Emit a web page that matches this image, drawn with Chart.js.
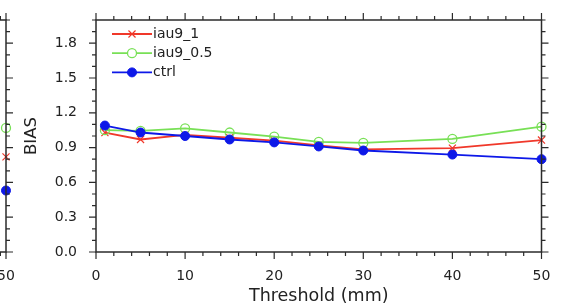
<!DOCTYPE html>
<html>
<head>
<meta charset="utf-8">
<script src="https://cdn.jsdelivr.net/npm/chart.js@4/dist/chart.umd.min.js"></script>
<style>
  html, body { margin: 0; padding: 0; background: #fff; }
  #wrap { position: relative; width: 573px; height: 306px; overflow: hidden; }
  #mainChart { position: absolute; left: 0; top: 0; }
  #leftChart { position: absolute; left: -174px; top: 0; }
</style>
</head>
<body>
<div id="wrap">
  <canvas id="leftChart" width="200" height="306"></canvas>
  <canvas id="mainChart" width="573" height="306"></canvas>
</div>
<script>
// Values.
const thresholds = [1, 5, 10, 15, 20, 25, 30, 40, 50];
const iau9_1 = [1.03, 0.97, 1.01, 0.985, 0.96, 0.92, 0.885, 0.895, 0.965];
const iau9_05 = [1.05, 1.045, 1.065, 1.03, 0.995, 0.95, 0.94, 0.975, 1.08];
const ctrl = [1.09, 1.03, 1.0, 0.97, 0.945, 0.91, 0.875, 0.84, 0.8];

// Only the last point of the neighbouring (cut off) panel is visible.
const leftThresholds = [50];
const leftIau9_1 = [0.82];
const leftIau9_05 = [1.07];
const leftCtrl = [0.53];

const yMajorTicks = [0, 0.3, 0.6, 0.9, 1.2, 1.5, 1.8];
const xMajorTicks = [0, 10, 20, 30, 40, 50];

const FONT = "'DejaVu Sans', sans-serif";
const RED = "#f0382a";
const GREEN = "#78e056";
const BLUE = "#0d18e8";

function toPoints(xs, ys) {
  return xs.map((x, i) => ({ x, y: ys[i] }));
}

function makeDatasets(xs, red, green, blue) {
  return [
    {
      label: "iau9_1",
      data: toPoints(xs, red),
      borderColor: RED,
      backgroundColor: RED,
      borderWidth: 1.8,
      pointStyle: "crossRot",
      pointRadius: 5,
      pointBorderWidth: 1.2,
      clip: false,
      order: 2,
    },
    {
      label: "iau9_0.5",
      data: toPoints(xs, green),
      borderColor: GREEN,
      backgroundColor: "rgba(255,255,255,0)",
      borderWidth: 1.8,
      pointStyle: "circle",
      pointRadius: 4.5,
      pointBorderWidth: 1.3,
      clip: false,
      order: 1,
    },
    {
      label: "ctrl",
      data: toPoints(xs, blue),
      borderColor: BLUE,
      backgroundColor: BLUE,
      borderWidth: 1.8,
      pointStyle: "circle",
      pointRadius: 4.5,
      pointBorderWidth: 1,
      clip: false,
      order: 0,
    },
  ];
}

// Keep the plot box where the reference has it: no label overhang padding.
function fixVertical(width) {
  return (scale) => {
    scale.width = width;
    scale.paddingTop = 0;
    scale.paddingBottom = 0;
  };
}

function fixHorizontal(height) {
  return (scale) => {
    scale.height = height;
    scale.paddingLeft = 0;
    scale.paddingRight = 0;
  };
}

// Frame plus outward major/minor tick marks on all four sides.
const frameTicks = {
  id: "frameTicks",
  afterDatasetsDraw(chart) {
    const { ctx, chartArea: a, scales } = chart;
    const x = scales.x;
    const y = scales.y;
    ctx.save();
    ctx.strokeStyle = "#2b2b2b";
    ctx.lineWidth = 1.5;
    ctx.strokeRect(a.left, a.top, a.right - a.left, a.bottom - a.top);
    ctx.lineWidth = 1.2;
    ctx.beginPath();
    for (let i = 0; i <= 20; i++) {
      const py = y.getPixelForValue(i / 10);
      const len = i % 3 === 0 ? 7 : 4;
      ctx.moveTo(a.left, py);
      ctx.lineTo(a.left - len, py);
      ctx.moveTo(a.right, py);
      ctx.lineTo(a.right + len, py);
    }
    for (let v = 0; v <= 50; v += 2) {
      const px = x.getPixelForValue(v);
      const len = v % 10 === 0 ? 7 : 4;
      ctx.moveTo(px, a.bottom);
      ctx.lineTo(px, a.bottom + len);
      ctx.moveTo(px, a.top);
      ctx.lineTo(px, a.top - len);
    }
    ctx.stroke();
    ctx.restore();
  },
};

// NCL style legend: short line with the marker in its middle, label after it.
const lineLegend = {
  id: "lineLegend",
  afterDraw(chart) {
    const { ctx, chartArea: a } = chart;
    ctx.save();
    chart.data.datasets.forEach((ds, i) => {
      const rowY = a.top + 14 + i * 19.2;
      const x0 = a.left + 16;
      const x1 = a.left + 56;
      ctx.strokeStyle = ds.borderColor;
      ctx.lineWidth = ds.borderWidth;
      ctx.beginPath();
      ctx.moveTo(x0, rowY);
      ctx.lineTo(x1, rowY);
      ctx.stroke();
      ctx.fillStyle = ds.pointStyle === "circle" && ds.label !== "ctrl" ? "#fff" : ds.backgroundColor;
      ctx.lineWidth = ds.pointBorderWidth;
      Chart.helpers.drawPoint(ctx, {
        pointStyle: ds.pointStyle,
        radius: ds.pointRadius,
        rotation: 0,
        borderWidth: ds.pointBorderWidth,
      }, (x0 + x1) / 2, rowY);
      ctx.fillStyle = "#222";
      ctx.font = "14px " + FONT;
      ctx.textBaseline = "middle";
      ctx.textAlign = "left";
      ctx.fillText(ds.label, x1 + 1, rowY);
    });
    ctx.restore();
  },
};

new Chart(document.getElementById("mainChart"), {
  type: "line",
  data: { datasets: makeDatasets(thresholds, iau9_1, iau9_05, ctrl) },
  options: {
    responsive: false,
    animation: false,
    events: [],
    layout: { padding: { left: 0, right: 31.5, top: 20, bottom: 0 } },
    plugins: { legend: { display: false }, tooltip: { enabled: false } },
    scales: {
      x: {
        type: "linear",
        min: 0,
        max: 50,
        afterFit: fixHorizontal(54),
        afterBuildTicks(scale) { scale.ticks = xMajorTicks.map((value) => ({ value })); },
        grid: { display: false, drawTicks: false },
        border: { display: false },
        ticks: { padding: 16, color: "#222", font: { family: FONT, size: 14 }, maxRotation: 0 },
        title: {
          display: true,
          text: "Threshold (mm)",
          color: "#222",
          font: { family: FONT, size: 17.5, lineHeight: 1 },
          padding: { top: 0, bottom: 0.5 },
        },
      },
      y: {
        min: 0,
        max: 2.0,
        afterFit: fixVertical(96),
        afterBuildTicks(scale) { scale.ticks = yMajorTicks.map((value) => ({ value })); },
        grid: { display: false, drawTicks: false },
        border: { display: false },
        ticks: {
          padding: 19,
          color: "#222",
          font: { family: FONT, size: 14 },
          callback(value) { return Number(value).toFixed(1); },
        },
        title: {
          display: true,
          text: "BIAS",
          color: "#222",
          font: { family: FONT, size: 16.5, lineHeight: 1 },
          padding: { top: 23, bottom: 0 },
        },
      },
    },
  },
  plugins: [frameTicks, lineLegend],
});

const leftCanvas = document.getElementById("leftChart");
const leftChart = new Chart(leftCanvas, {
  type: "line",
  data: { datasets: makeDatasets(leftThresholds, leftIau9_1, leftIau9_05, leftCtrl) },
  options: {
    responsive: false,
    animation: false,
    events: [],
    layout: { padding: { left: 0, right: 20, top: 20, bottom: 0 } },
    plugins: { legend: { display: false }, tooltip: { enabled: false } },
    scales: {
      x: {
        type: "linear",
        min: 0,
        max: 50,
        afterFit: fixHorizontal(54),
        afterBuildTicks(scale) { scale.ticks = xMajorTicks.map((value) => ({ value })); },
        grid: { display: false, drawTicks: false },
        border: { display: false },
        ticks: { padding: 16, color: "#222", font: { family: FONT, size: 14 }, maxRotation: 0 },
      },
      y: {
        min: 0,
        max: 2.0,
        afterFit: fixVertical(40),
        grid: { display: false, drawTicks: false },
        border: { display: false },
        ticks: { display: false },
      },
    },
  },
  plugins: [frameTicks],
});

// Slide the cut-off panel so its right frame sits at x = 6 like in the reference.
leftCanvas.style.left = (6 - leftChart.chartArea.right) + "px";
</script>
</body>
</html>
